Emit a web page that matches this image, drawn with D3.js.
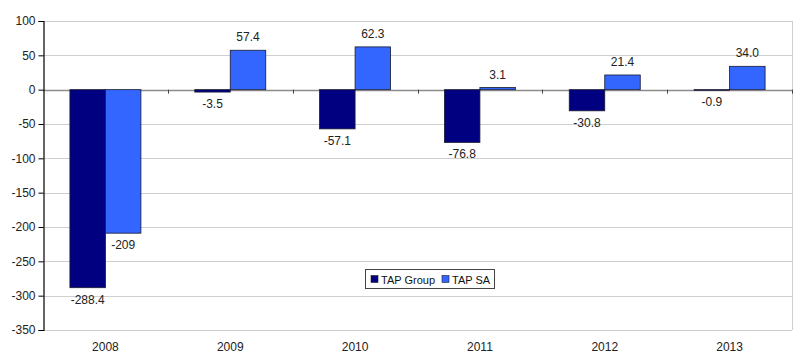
<!DOCTYPE html>
<html><head><meta charset="utf-8">
<script src="https://cdn.jsdelivr.net/npm/d3@7"></script>
<style>body{margin:0;background:#fff}svg{display:block;font-family:"Liberation Sans",Arial,sans-serif}</style>
</head><body><svg id="c" width="800" height="359"></svg>
<script>
const years = ["2008","2009","2010","2011","2012","2013"];
const seriesNames = ["TAP Group","TAP SA"];
const tapGroup = [-288.4,-3.5,-57.1,-76.8,-30.8,-0.9];
const tapSA = [-209,57.4,62.3,3.1,21.4,34.0];
const tapGroupLabels = ["-288.4","-3.5","-57.1","-76.8","-30.8","-0.9"];
const tapSALabels = ["-209","57.4","62.3","3.1","21.4","34.0"];
const yTicks = [100,50,0,-50,-100,-150,-200,-250,-300,-350];
const colors = ["#000080","#3366ff"];

const svg = d3.select("#c");
const L=43, R=792, T=21, B=330;
const x = d3.scaleBand().domain(years).range([L,R]);
const y = d3.scaleLinear().domain([-350,100]).range([B,T]);
const inner = d3.scaleBand().domain([0,1]).range([0,71]);
const series = [tapGroup,tapSA], labels=[tapGroupLabels,tapSALabels];

// gridlines
svg.append("g").selectAll("line").data(yTicks).join("line")
 .attr("x1",L).attr("x2",R).attr("y1",d=>Math.round(y(d))+0.5).attr("y2",d=>Math.round(y(d))+0.5)
 .attr("stroke",d=>d===0?"#8c8c8c":"#cfcfcf").attr("stroke-width",d=>d===0?1.5:1);
// right border
svg.append("line").attr("x1",R+0.5).attr("x2",R+0.5).attr("y1",T).attr("y2",B).attr("stroke","#cfcfcf");

// bars
series.forEach((s,si)=>{
  svg.append("g").selectAll("rect").data(s).join("rect")
   .attr("x",(d,i)=>x(years[i])+x.bandwidth()/2-35.5+inner(si))
   .attr("width",inner.bandwidth())
   .attr("y",d=>y(Math.max(0,d)))
   .attr("height",d=>Math.abs(y(d)-y(0)))
   .attr("fill",colors[si]).attr("stroke","#1a1a2e").attr("stroke-width",0.8);
  svg.append("g").selectAll("text").data(s).join("text")
   .attr("x",(d,i)=>x(years[i])+x.bandwidth()/2-35.5+inner(si)+inner.bandwidth()/2)
   .attr("y",d=>d>=0?y(d)-9:y(d)+16)
   .attr("text-anchor","middle").attr("font-size",12).attr("fill","#222")
   .text((d,i)=>labels[si][i]);
});

// y axis
const ya = svg.append("g").attr("transform",`translate(${L+0.5},0)`)
 .call(d3.axisLeft(y).tickValues(yTicks).tickSize(5).tickPadding(3).tickFormat(d=>String(d)));
ya.select(".domain").attr("stroke","#000").attr("stroke-width",1.2);
ya.selectAll(".tick line").attr("stroke","#000");
ya.selectAll("text").attr("font-size",12).attr("fill","#222").attr("font-family","Liberation Sans,Arial,sans-serif");

// category ticks on zero line
svg.append("g").selectAll("line").data(years.slice(1).concat(["end"])).join("line")
 .attr("x1",(d,i)=>Math.round(L+x.step()*(i+1))+0.5).attr("x2",(d,i)=>Math.round(L+x.step()*(i+1))+0.5)
 .attr("y1",y(0)).attr("y2",y(0)+4).attr("stroke","#444");

// x labels
svg.append("g").selectAll("text").data(years).join("text")
 .attr("x",d=>x(d)+x.bandwidth()/2).attr("y",351).attr("text-anchor","middle")
 .attr("font-size",12).attr("fill","#222").text(d=>d);

// legend
const lg = svg.append("g");
lg.append("rect").attr("x",365.5).attr("y",269.5).attr("width",129).attr("height",19).attr("fill","#fff").attr("stroke","#444");
const lx=[371,442];
seriesNames.forEach((n,i)=>{
  lg.append("rect").attr("x",lx[i]).attr("y",275.5).attr("width",7).attr("height",7).attr("fill",colors[i]).attr("stroke","#222").attr("stroke-width",0.6);
  lg.append("text").attr("x",lx[i]+10).attr("y",283.5).attr("font-size",11).attr("fill","#111").text(n);
});
</script></body></html>
